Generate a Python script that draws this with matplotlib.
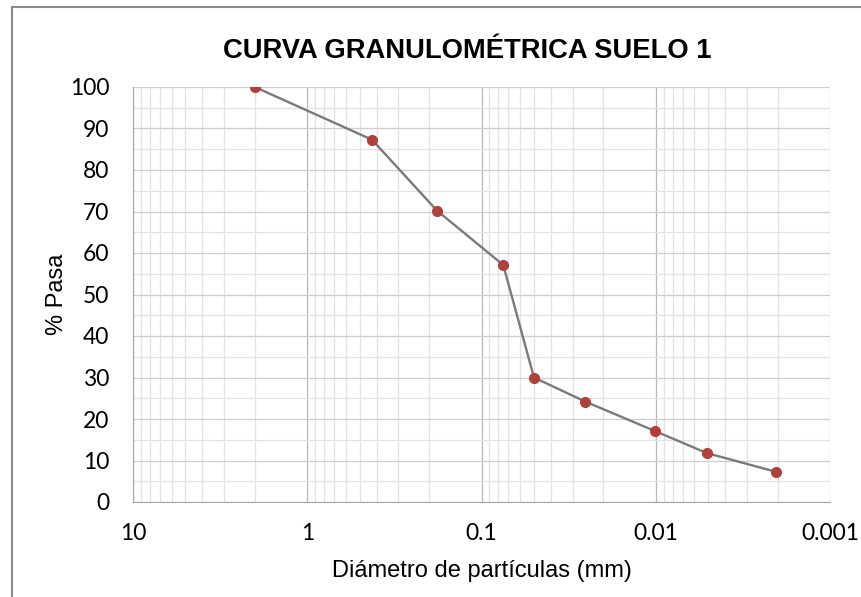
"""Curva granulométrica del suelo 1: % que pasa vs diámetro de partículas (escala log invertida)."""

import matplotlib
matplotlib.use("Agg")
from matplotlib import pyplot as plt
from matplotlib.lines import Line2D
from matplotlib.ticker import LogLocator, FixedLocator, NullFormatter

# datos
diametros = [2.0, 0.425, 0.18, 0.075, 0.05, 0.0254, 0.0101, 0.0051, 0.00205]
pasa = [100, 87.3, 70.2, 57.1, 30.0, 24.2, 17.1, 11.8, 7.3]
x_ticks = [10, 1, 0.1, 0.01, 0.001]
x_labels = ["10", "1", "0.1", "0.01", "0.001"]
y_ticks = list(range(0, 101, 10))
y_minor = list(range(5, 100, 10))

titulo = "CURVA GRANULOMÉTRICA SUELO 1"
label_x = "Diámetro de partículas (mm)"
label_y = "% Pasa"

plt.rcParams["font.family"] = ["Lato", "DejaVu Sans"]
arial = ["Liberation Sans", "DejaVu Sans"]

W, H = 861, 597
fig = plt.figure(figsize=(W / 100, H / 100), dpi=100)
ax = fig.add_axes([133 / W, 95 / H, 697 / W, 415 / H])

ax.set_xscale("log")
ax.set_xlim(10, 0.001)
ax.set_ylim(0, 100)

# rejilla estilo Excel
ax.xaxis.set_major_locator(FixedLocator(x_ticks))
ax.set_xticklabels(x_labels)
ax.xaxis.set_minor_locator(LogLocator(base=10, subs=range(2, 10)))
ax.xaxis.set_minor_formatter(NullFormatter())
ax.set_yticks(y_ticks)
ax.set_yticks(y_minor, minor=True)
ax.xaxis.grid(True, which="major", color="#b8b8b8", linewidth=0.9)
ax.yaxis.grid(True, which="major", color="#cfcfcf", linewidth=0.9)
ax.grid(which="minor", color="#e3e3e3", linewidth=0.9)
ax.set_axisbelow(True)

ax.tick_params(which="both", length=0, labelsize=16.5, colors="black")
ax.tick_params(axis="x", pad=15)
ax.tick_params(axis="y", pad=17)

for side in ["top", "right"]:
    ax.spines[side].set_visible(False)
ax.spines["left"].set_color("#a6a6a6")
ax.spines["bottom"].set_color("#a6a6a6")

ax.plot(diametros, pasa, "-o", color="#7a7a7a", linewidth=1.7,
        markersize=7, markerfacecolor="#b0403c", markeredgecolor="#b0403c", zorder=3)

ax.set_xlabel(label_x, fontsize=17, family=arial)
ax.set_ylabel(label_y, fontsize=17, family=arial)
ax.xaxis.set_label_coords(0.5, (502 - 560) / 415)
ax.yaxis.set_label_coords((68 - 133) / 697, 0.5)

fig.text(467 / W, 1 - 58 / H, titulo, ha="center", va="baseline",
         fontsize=19.7, fontweight="bold", family=arial)

# borde del área del gráfico (solo izquierda y arriba visibles)
fig.add_artist(Line2D([12 / W, 12 / W], [0, 1 - 7 / H], transform=fig.transFigure,
                      color="#8c8c8c", linewidth=1.5))
fig.add_artist(Line2D([12 / W, 1], [1 - 7 / H, 1 - 7 / H], transform=fig.transFigure,
                      color="#8c8c8c", linewidth=1.5))

fig.savefig("out.png", dpi=100)
